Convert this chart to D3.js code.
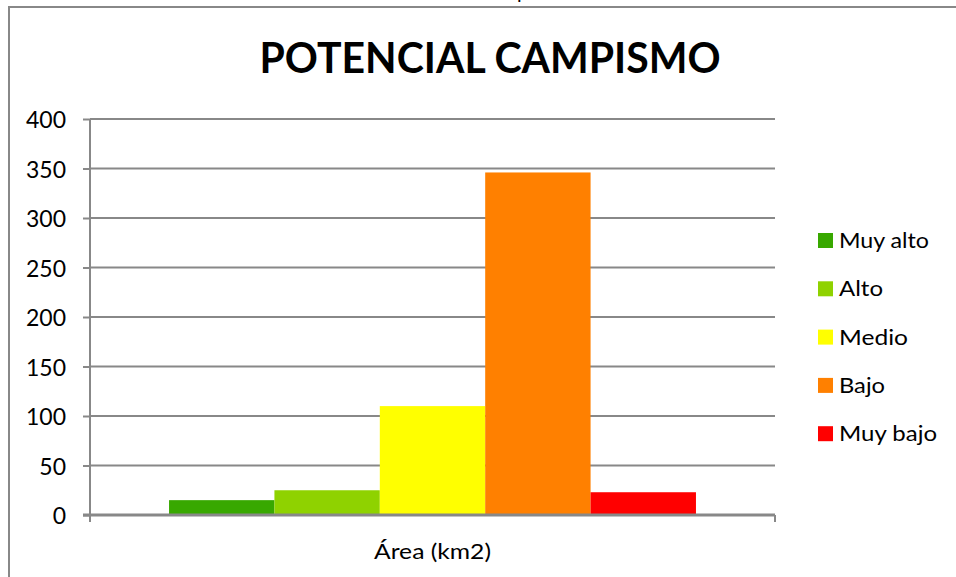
<!DOCTYPE html>
<html>
<head>
<meta charset="utf-8">
<script src="https://cdn.jsdelivr.net/npm/d3@7"></script>
<style>
  html, body { margin: 0; padding: 0; background: #fff; }
  svg { display: block; }
  text { font-family: Lato, "Open Sans", sans-serif; fill: #000; }
</style>
</head>
<body>
<svg id="chart" width="956" height="577"></svg>
<script>
// Chart data
const categories = ["Área (km2)"];
const series = ["Muy alto", "Alto", "Medio", "Bajo", "Muy bajo"];
const values = [15, 25, 110, 346, 23];
const colors = ["#38a800", "#8fd200", "#ffff00", "#ff8000", "#ff0000"];
const yTicks = [0, 50, 100, 150, 200, 250, 300, 350, 400];
const title = "POTENCIAL CAMPISMO";

const svg = d3.select("#chart");
const plot = { left: 90, right: 775, top: 119, bottom: 515 };
const gridColor = "#888888";

// Frame around the chart area
svg.append("path")
  .attr("d", "M9,577 V7 H956")
  .attr("fill", "none")
  .attr("stroke", gridColor)
  .attr("stroke-width", 2);

// Descender of a heading clipped above the frame
svg.append("text")
  .attr("x", 517).attr("y", -1)
  .attr("font-size", 20)
  .text("p");

const y = d3.scaleLinear().domain([0, 400]).range([plot.bottom, plot.top]);
const x0 = d3.scaleBand().domain(categories).range([plot.left, plot.right]);
// gap width 150%: three quarters of a bar width on each side of the group
const x1 = d3.scaleBand().domain(series).range([0, x0.bandwidth()])
  .paddingInner(0).paddingOuter(0.75);

// Horizontal gridlines
svg.append("g")
  .selectAll("line")
  .data(yTicks.filter(t => t > 0))
  .join("line")
  .attr("x1", plot.left).attr("x2", plot.right)
  .attr("y1", d => y(d)).attr("y2", d => y(d))
  .attr("stroke", gridColor)
  .attr("stroke-width", 2);

// Bars
const group = svg.append("g")
  .selectAll("g")
  .data(categories)
  .join("g")
  .attr("transform", d => `translate(${x0(d)},0)`);

group.selectAll("rect")
  .data(series.map((s, i) => ({ s, v: values[i], c: colors[i] })))
  .join("rect")
  .attr("x", d => x1(d.s))
  .attr("width", x1.bandwidth())
  .attr("y", d => y(d.v))
  .attr("height", d => y(0) - y(d.v))
  .attr("fill", d => d.c);

// Value axis
const yAxis = d3.axisLeft(y).tickValues(yTicks).tickSize(7).tickPadding(17)
  .tickFormat(d3.format("d"));
const ya = svg.append("g")
  .attr("transform", `translate(${plot.left},0)`)
  .call(yAxis);
ya.select(".domain").remove();
ya.selectAll(".tick line").attr("stroke", gridColor).attr("stroke-width", 2);
ya.selectAll(".tick text")
  .attr("font-family", "Lato, 'Open Sans', sans-serif")
  .attr("font-size", 23)
  .attr("dy", "0.38em")
  .attr("fill", "#000");

svg.append("line")
  .attr("x1", plot.left).attr("x2", plot.left)
  .attr("y1", plot.top).attr("y2", plot.bottom + 7)
  .attr("stroke", gridColor).attr("stroke-width", 2);

// Category axis with boundary ticks
svg.append("line")
  .attr("x1", plot.left - 7).attr("x2", plot.right)
  .attr("y1", y(0)).attr("y2", y(0))
  .attr("stroke", gridColor).attr("stroke-width", 3);
svg.append("g")
  .selectAll("line")
  .data([plot.left, plot.right])
  .join("line")
  .attr("x1", d => d).attr("x2", d => d)
  .attr("y1", y(0)).attr("y2", y(0) + 7)
  .attr("stroke", gridColor).attr("stroke-width", 2);

svg.append("g")
  .selectAll("text")
  .data(categories)
  .join("text")
  .attr("x", d => x0(d) + x0.bandwidth() / 2)
  .attr("y", 559)
  .attr("text-anchor", "middle")
  .attr("font-size", 21)
  .attr("textLength", 117)
  .attr("lengthAdjust", "spacingAndGlyphs")
  .text(d => d);

// Title
svg.append("text")
  .attr("x", 490).attr("y", 72.5)
  .attr("text-anchor", "middle")
  .attr("font-size", 42)
  .attr("font-weight", "bold")
  .attr("textLength", 461)
  .attr("lengthAdjust", "spacingAndGlyphs")
  .text(title);

// Legend
const legendWidths = [90, 44, 69, 46, 98];
const legend = svg.append("g")
  .selectAll("g")
  .data(series)
  .join("g")
  .attr("transform", (d, i) => `translate(818,${233 + i * 48.3})`);
legend.append("rect")
  .attr("width", 15).attr("height", 15)
  .attr("fill", (d, i) => colors[i]);
legend.append("text")
  .attr("x", 21).attr("y", 15)
  .attr("font-size", 22)
  .attr("textLength", (d, i) => legendWidths[i])
  .attr("lengthAdjust", "spacingAndGlyphs")
  .text(d => d);
</script>
</body>
</html>
